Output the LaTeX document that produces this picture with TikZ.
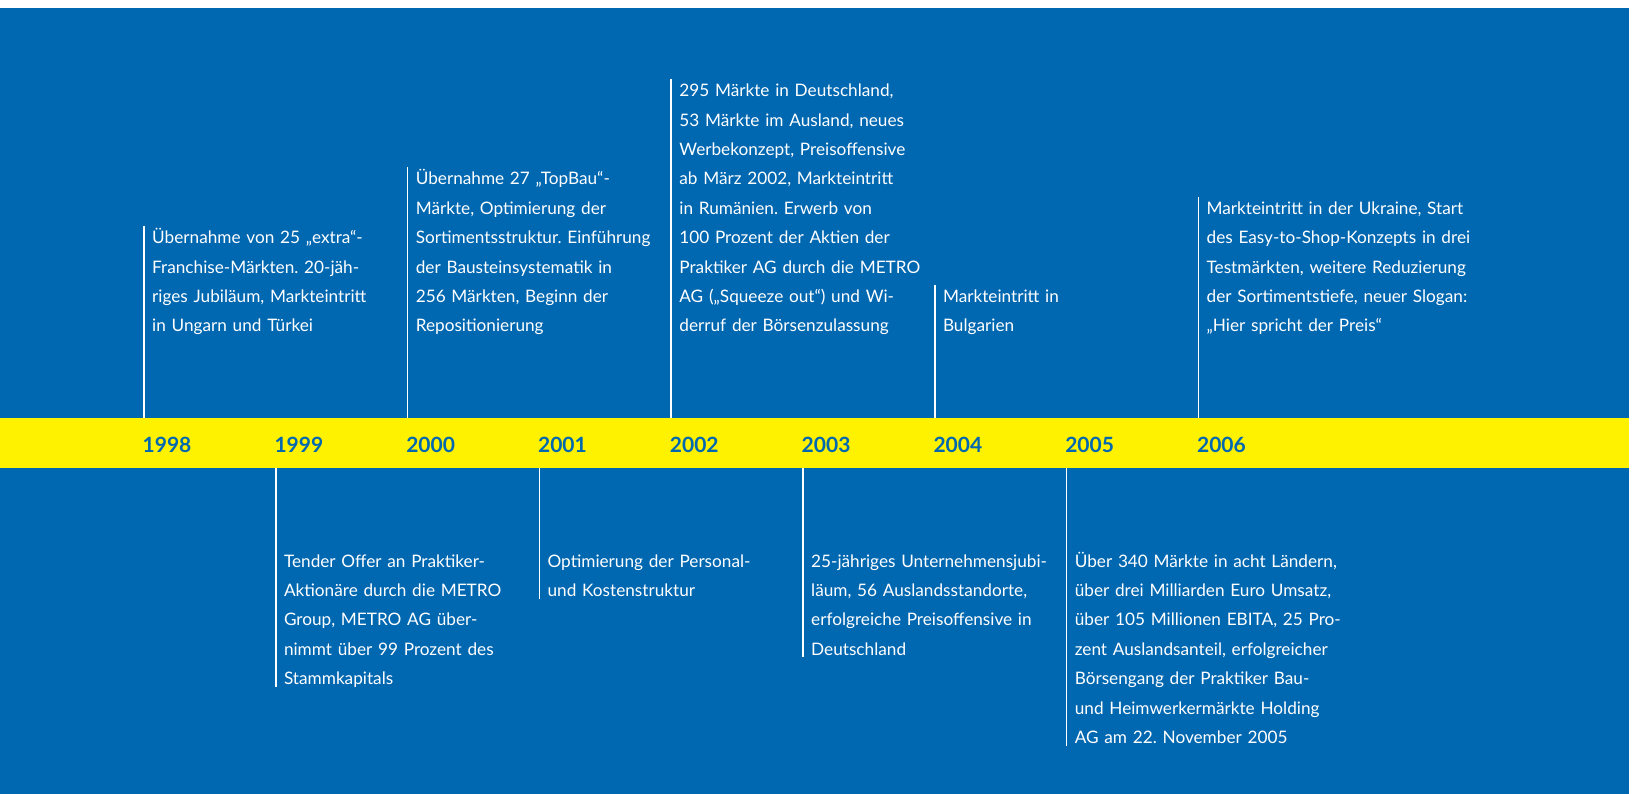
\documentclass[tikz,border=0pt]{standalone}
\usepackage{fontspec}
\setmainfont{Lato}
\usetikzlibrary{positioning, calc}
\definecolor{chronoblue}{RGB}{0,103,177}
\definecolor{chronoyellow}{RGB}{255,242,0}

\begin{document}
\frenchspacing
\begin{tikzpicture}[x=1pt, y=-1pt,
  event/.style={text=white, inner sep=0pt, text width=290pt, align=left,
    font=\fontsize{17.2}{29.4}\selectfont,
    execute at begin node=\strut, execute at end node=\strut},
  year/.style={text=chronoblue, inner sep=0pt, anchor=west,
    font=\fontsize{21}{21}\selectfont\bfseries},
  tick/.style={white, line width=1.6pt}]
  \def\bandtop{418}\def\bandbot{468}

  % page and blue ground
  \useasboundingbox (0,0) rectangle (1640,794);
  \fill[chronoblue] (0,8) rectangle (1629,794);

  % yellow year band
  \node[fill=chronoyellow, inner sep=0pt, minimum width=1629pt, minimum height=50pt,
    anchor=north west] (band) at (0,\bandtop) {};
  \foreach \yr [count=\i from 0] in {1998,1999,2000,2001,2002,2003,2004,2005,2006}
    \node[year] (y\yr) at (142.5+131.8*\i, 445) {\yr};

  % events above the band (bottom aligned)
  \node[event, anchor=south west] (t1998) at (152,341) {Übernahme von 25 „extra“-\\Franchise-Märkten. 20-jäh-\\riges Jubiläum, Markteintritt\\in Ungarn und Türkei};
  \node[event, anchor=south west] (t2000) at (415.6,341) {Übernahme 27 „TopBau“-\\Märkte, Optimierung der\\Sortimentsstruktur. Einführung\\der Bausteinsystematik in\\256 Märkten, Beginn der\\Repositionierung};
  \node[event, anchor=south west] (t2002) at (679.2,341) {295 Märkte in Deutschland,\\53 Märkte im Ausland, neues\\Werbekonzept, Preisoffensive\\ab März 2002, Markteintritt\\in Rumänien. Erwerb von\\100 Prozent der Aktien der\\Praktiker AG durch die METRO\\AG („Squeeze out“) und Wi-\\derruf der Börsenzulassung};
  \node[event, anchor=south west] (t2004) at (942.8,341) {Markteintritt in\\Bulgarien};
  \node[event, anchor=south west] (t2006) at (1206.4,341) {Markteintritt in der Ukraine, Start\\des Easy-to-Shop-Konzepts in drei\\Testmärkten, weitere Reduzierung\\der Sortimentstiefe, neuer Slogan:\\„Hier spricht der Preis“};

  % events below the band (top aligned)
  \node[event, anchor=north west] (t1999) at (283.8,546.4) {Tender Offer an Praktiker-\\Aktionäre durch die METRO\\Group, METRO AG über-\\nimmt über 99 Prozent des\\Stammkapitals};
  \node[event, anchor=north west] (t2001) at (547.4,546.4) {Optimierung der Personal-\\und Kostenstruktur};
  \node[event, anchor=north west] (t2003) at (811,546.4) {25-jähriges Unternehmensjubi-\\läum, 56 Auslandsstandorte,\\erfolgreiche Preisoffensive in\\Deutschland};
  \node[event, anchor=north west] (t2005) at (1074.6,546.4) {Über 340 Märkte in acht Ländern,\\über drei Milliarden Euro Umsatz,\\über 105 Millionen EBITA, 25 Pro-\\zent Auslandsanteil, erfolgreicher\\Börsengang der Praktiker Bau-\\und Heimwerkermärkte Holding\\AG am 22. November 2005};

  % white ticks joining text and band
  \foreach \yr in {1998,2000,2002,2004,2006}
    \draw[tick] ([xshift=-8pt,yshift=-3pt]t\yr.north west) -- ([xshift=-8pt]t\yr.north west |- band.north);
  \foreach \yr in {1999,2001,2003,2005}
    \draw[tick] ([xshift=-8pt]t\yr.north west |- band.south) -- ([xshift=-8pt,yshift=7pt]t\yr.south west);
\end{tikzpicture}
\end{document}
